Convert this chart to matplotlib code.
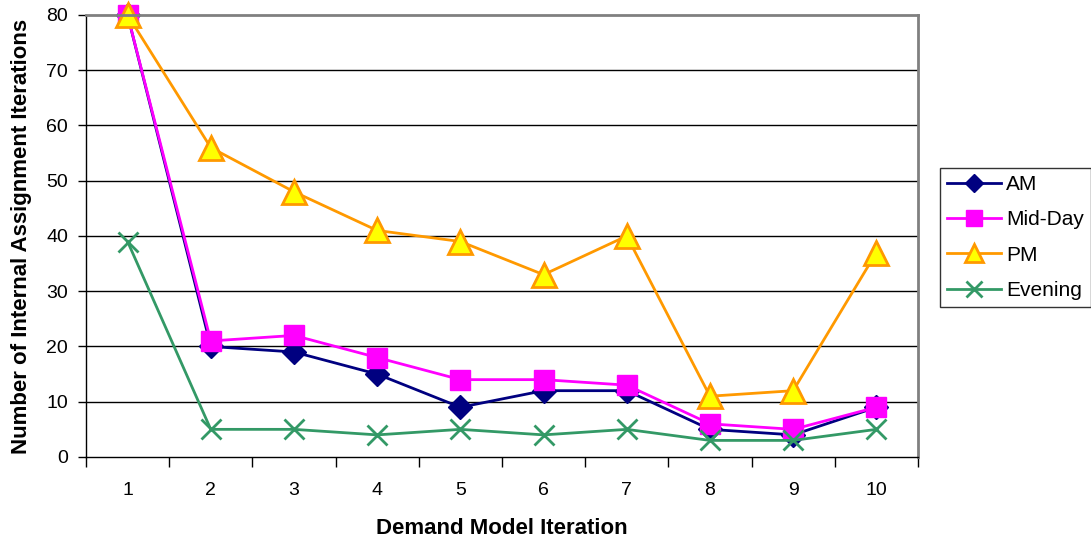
import matplotlib
matplotlib.use('Agg')
from matplotlib import pyplot as plt
import numpy as np

plt.rcParams['font.family'] = ['Liberation Sans', 'DejaVu Sans']

iterations = [1, 2, 3, 4, 5, 6, 7, 8, 9, 10]
am = [80, 20, 19, 15, 9, 12, 12, 5, 4, 9]
mid_day = [80, 21, 22, 18, 14, 14, 13, 6, 5, 9]
pm = [80, 56, 48, 41, 39, 33, 40, 11, 12, 37]
evening = [39, 5, 5, 4, 5, 4, 5, 3, 3, 5]

fig = plt.figure(figsize=(10.91, 5.41), dpi=100)
ax = fig.add_axes([0.0788, 0.1553, 0.7626, 0.817])

ax.plot(iterations, am, color='#000080', lw=2, marker='D', ms=12,
        mfc='#000080', mec='#000080', label='AM', clip_on=False)
ax.plot(iterations, mid_day, color='#FF00FF', lw=2, marker='s', ms=15,
        mfc='#FF00FF', mec='#FF00FF', label='Mid-Day', clip_on=False)
ax.plot(iterations, pm, color='#FF9900', lw=2, marker='^', ms=17,
        mfc='#FFFF00', mec='#FF9900', mew=2, label='PM', clip_on=False)
ax.plot(iterations, evening, color='#339966', lw=2, marker='x', ms=15,
        mew=2, label='Evening', clip_on=False)

ax.set_xlim(0.5, 10.5)
ax.set_ylim(0, 80)
ax.set_yticks(np.arange(0, 81, 10))
# category boundaries get the tick marks, the centres get the labels
ax.set_xticks(np.arange(0.5, 10.6, 1))
ax.set_xticklabels([])
ax.set_xticks(iterations, minor=True)
ax.set_xticklabels([str(i) for i in iterations], minor=True)
ax.tick_params(axis='x', which='major', direction='out', length=7, width=1, color='black')
ax.tick_params(axis='x', which='minor', length=0, pad=18, labelsize=14)
ax.tick_params(axis='y', direction='out', length=6, width=1, labelsize=14, pad=7)

for y in range(10, 80, 10):
    ax.axhline(y, color='black', lw=1, zorder=0)

for side in ['top', 'right']:
    ax.spines[side].set_color('#808080')
    ax.spines[side].set_linewidth(2)
for side in ['left', 'bottom']:
    ax.spines[side].set_color('black')
    ax.spines[side].set_linewidth(1)

ax.set_xlabel('Demand Model Iteration', fontsize=16, fontweight='bold', labelpad=14)
ax.set_ylabel('Number of Internal Assignment Iterations', fontsize=16, fontweight='bold', labelpad=10)

leg = ax.legend(loc='upper left', bbox_to_anchor=(1.026, 0.654), frameon=True,
                fancybox=False, fontsize=15, handlelength=2.6, borderpad=0.35,
                labelspacing=0.78, handletextpad=0.25, borderaxespad=0)
leg.get_frame().set_edgecolor('black')
leg.get_frame().set_linewidth(1)
for h in leg.legend_handles:
    h.set_markersize(h.get_markersize() * 0.75)

fig.savefig('out.png', dpi=100)
